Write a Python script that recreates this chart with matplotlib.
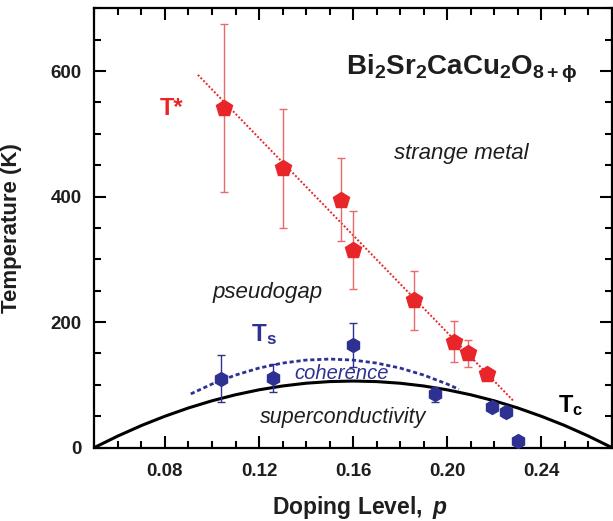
import numpy as np
import matplotlib
matplotlib.use('Agg')
import matplotlib.pyplot as plt

plt.rcParams['font.family'] = ['Liberation Sans', 'DejaVu Sans']
plt.rcParams['mathtext.fontset'] = 'custom'
plt.rcParams['mathtext.rm'] = 'Liberation Sans'
plt.rcParams['mathtext.it'] = 'Liberation Sans:italic'
plt.rcParams['mathtext.bf'] = 'Liberation Sans:bold'
plt.rcParams['mathtext.bfit'] = 'Liberation Sans:italic:bold'

# T* (pseudogap onset), red pentagons
tstar_p = [0.105, 0.130, 0.155, 0.160, 0.186, 0.203, 0.209, 0.217]
tstar_T = [541, 445, 395, 315, 235, 169, 150, 117]
tstar_err = [134, 95, 66, 62, 47, 33, 21, 8]
# dotted guide line through T*
tstar_fit_p = [0.094, 0.228]
tstar_fit_T = [594, 75]

# Ts, blue hexagons
ts_p = [0.104, 0.126, 0.160, 0.195, 0.219, 0.225, 0.230]
ts_T = [110, 111, 164, 85, 65, 56, 10]
ts_err = [38, 22, 35, 12, 7, 8, 7]

# coherence line (blue dashed)
coh_p = [0.091, 0.100, 0.110, 0.120, 0.130, 0.140, 0.150, 0.160, 0.170, 0.180, 0.190, 0.200, 0.205]
coh_T = [85.5, 101.2, 115.5, 126.7, 134.6, 139.4, 141.0, 139.4, 134.6, 126.7, 115.5, 101.2, 92.8]

# Tc dome (black)
tc_p = [0.05, 0.06, 0.07, 0.08, 0.09, 0.10, 0.11, 0.12, 0.13, 0.14, 0.15, 0.16,
        0.17, 0.18, 0.19, 0.20, 0.21, 0.22, 0.23, 0.24, 0.25, 0.26, 0.27]
tc_T = [0, 18.4, 35.1, 49.9, 63.1, 74.5, 84.1, 92.0, 98.1, 102.5, 105.1, 106.0,
        105.1, 102.5, 98.1, 92.0, 84.1, 74.5, 63.1, 49.9, 35.1, 18.4, 0]

red = '#e8262a'
red_err = '#e86a6a'
blue = '#2e3192'
dark = '#1e1e1e'

fig = plt.figure(figsize=(6.13, 5.21), dpi=100)
ax = fig.add_axes([0.154, 0.141, 0.844, 0.843])

ax.plot(tc_p, tc_T, color='black', lw=2.2, zorder=2)
ax.plot(coh_p, coh_T, color=blue, lw=2.0, linestyle=(0, (1.5, 1.0)), zorder=2)
ax.plot(tstar_fit_p, tstar_fit_T, color=red, lw=1.4, linestyle=(0, (1, 1)), zorder=2)

ax.errorbar(tstar_p, tstar_T, yerr=tstar_err, fmt='p', color=red, ms=12,
            ecolor=red_err, elinewidth=1.0, capsize=3, capthick=1.0, zorder=4)
ax.errorbar(ts_p, ts_T, yerr=ts_err, fmt='h', color=blue, ms=10,
            ecolor=blue, elinewidth=1.0, capsize=3, capthick=1.0, zorder=4)

ax.set_xlim(0.05, 0.27)
ax.set_ylim(0, 700)
ax.set_xticks([0.08, 0.12, 0.16, 0.20, 0.24])
ax.set_xticklabels(['0.08', '0.12', '0.16', '0.20', '0.24'])
ax.set_xticks(np.arange(0.05, 0.2705, 0.01), minor=True)
ax.set_yticks([0, 200, 400, 600])
ax.set_yticks(np.arange(0, 701, 50), minor=True)

ax.tick_params(which='both', direction='in', top=True, right=True, width=1.5)
ax.tick_params(which='major', length=8.5)
ax.tick_params(which='minor', length=5)
ax.tick_params(axis='x', which='major', pad=11)
ax.tick_params(axis='y', which='major', pad=9)
for lab in ax.get_xticklabels() + ax.get_yticklabels():
    lab.set_fontsize(13.5)
    lab.set_fontweight('bold')
    lab.set_color(dark)
for s in ax.spines.values():
    s.set_linewidth(1.6)

ax.set_xlabel(r'$\mathbf{Doping\ Level,}\ \mathbfit{p}$', fontsize=16.5, color=dark)
ax.set_ylabel('Temperature (K)', fontsize=16, fontweight='bold', color=dark)
ax.xaxis.set_label_coords(0.513, -0.105)
ax.yaxis.set_label_coords(-0.14, 0.5)

ax.text(0.1568, 594, r'$\mathbf{Bi_2Sr_2CaCu_2O_{8+\phi}}$', fontsize=20,
        ha='left', va='baseline', color=dark)
ax.text(0.0778, 530, 'T*', color=red, fontsize=17, fontweight='bold', ha='left', va='baseline')
ax.text(0.206, 460, 'strange metal', fontsize=16, style='italic', ha='center', va='baseline', color=dark)
ax.text(0.1235, 239, 'pseudogap', fontsize=16, style='italic', ha='center', va='baseline', color=dark)
ax.text(0.1166, 169, r'$\mathbf{T_s}$', color=blue, fontsize=17.5, ha='left', va='baseline')
ax.text(0.155, 109.5, 'coherence', fontsize=14.5, style='italic', ha='center', va='baseline', color=blue)
ax.text(0.1557, 39, 'superconductivity', fontsize=15.5, style='italic', ha='center', va='baseline', color=dark)
ax.text(0.2471, 57, r'$\mathbf{T_c}$', color='black', fontsize=17, ha='left', va='baseline')

fig.savefig('out.png', dpi=100)
